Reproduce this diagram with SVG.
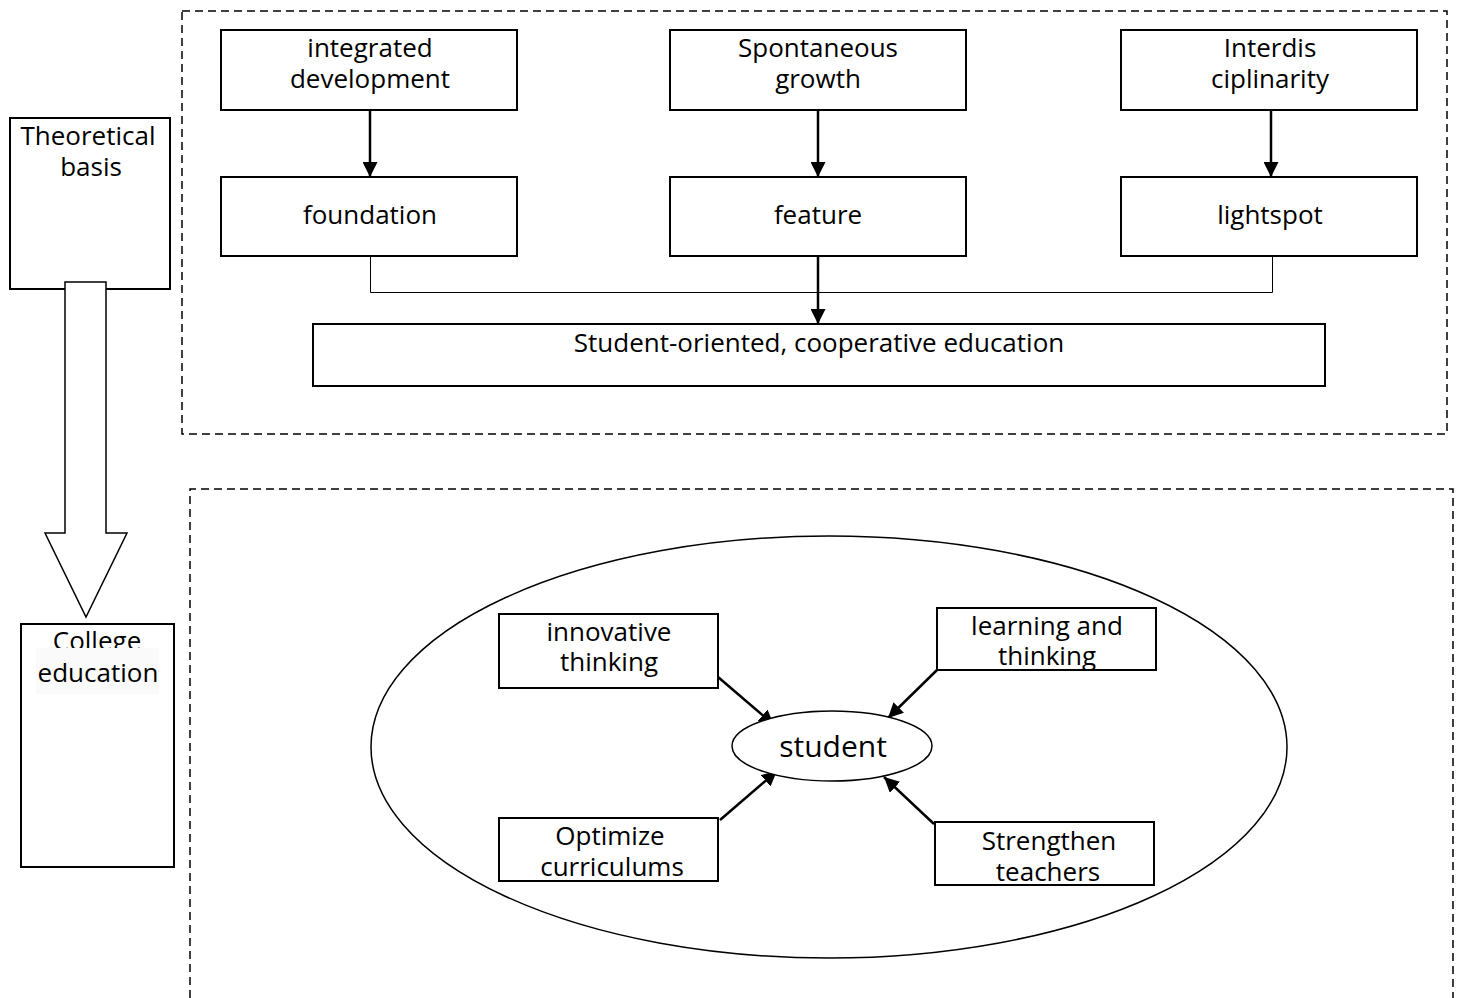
<svg xmlns="http://www.w3.org/2000/svg" width="1460" height="998" viewBox="0 0 1460 998">
<style>
.box{fill:#fff;stroke:#000;stroke-width:2}
.dash{fill:none;stroke:#000;stroke-width:1.5;stroke-dasharray:8,5}
.t{font-family:"Open Sans","Noto Sans","DejaVu Sans",sans-serif;font-size:26px;fill:#000;text-anchor:middle}
.arr{stroke:#000;stroke-width:2.5;fill:none}
.thin{stroke:#000;stroke-width:1;fill:none}
</style>
<defs>
<marker id="ah" viewBox="0 0 10 10" refX="10" refY="5" markerWidth="6" markerHeight="6" markerUnits="strokeWidth" orient="auto">
<path d="M0,0 L10,5 L0,10 z" fill="#000"/>
</marker>
</defs>
<rect width="1460" height="998" fill="#fff"/>
<rect class="dash" x="182" y="11" width="1265" height="423"/>
<path class="dash" d="M190,998 V489 H1453 V998"/>

<g id="connectors">
<line class="arr" x1="370" y1="110" x2="370" y2="177" marker-end="url(#ah)"/>
<line class="arr" x1="818" y1="110" x2="818" y2="177" marker-end="url(#ah)"/>
<line class="arr" x1="1271" y1="110" x2="1271" y2="177" marker-end="url(#ah)"/>
<path class="thin" d="M370.5,256 V292.5 H1272.5 V256"/>
<line class="arr" x1="818" y1="256" x2="818" y2="324" marker-end="url(#ah)"/>
<line class="arr" x1="718" y1="677" x2="774" y2="725" marker-end="url(#ah)"/>
<line class="arr" x1="937" y1="670" x2="888" y2="718" marker-end="url(#ah)"/>
<line class="arr" x1="720" y1="820" x2="777" y2="771" marker-end="url(#ah)"/>
<line class="arr" x1="934" y1="824" x2="884" y2="777" marker-end="url(#ah)"/>
</g>

<g id="n-theoretical">
<rect class="box" x="10" y="118" width="160" height="171"/>
<text class="t" x="88" y="145">Theoretical</text>
<text class="t" x="91" y="176">basis</text>
</g>
<g id="n-bigarrow">
<path d="M65,282 H106 V533 H127 L86,617 L45,533 H65 Z" fill="#fff" stroke="#000" stroke-width="1.5"/>
</g>
<g id="n-college">
<rect class="box" x="21" y="624" width="153" height="243"/>
<text class="t" x="97" y="650">College</text>
<rect x="36" y="648" width="123" height="46" fill="#fafafa"/>
<text class="t" x="98" y="682">education</text>
</g>

<g id="n-integrated">
<rect class="box" x="221" y="30" width="296" height="80"/>
<text class="t" x="370" y="57">integrated</text>
<text class="t" x="370" y="88">development</text>
</g>
<g id="n-spontaneous">
<rect class="box" x="670" y="30" width="296" height="80"/>
<text class="t" x="818" y="57">Spontaneous</text>
<text class="t" x="818" y="88">growth</text>
</g>
<g id="n-interdis">
<rect class="box" x="1121" y="30" width="296" height="80"/>
<text class="t" x="1270" y="57">Interdis</text>
<text class="t" x="1270" y="88">ciplinarity</text>
</g>
<g id="n-foundation">
<rect class="box" x="221" y="177" width="296" height="79"/>
<text class="t" x="370" y="224">foundation</text>
</g>
<g id="n-feature">
<rect class="box" x="670" y="177" width="296" height="79"/>
<text class="t" x="818" y="224">feature</text>
</g>
<g id="n-lightspot">
<rect class="box" x="1121" y="177" width="296" height="79"/>
<text class="t" x="1270" y="224">lightspot</text>
</g>
<g id="n-student-oriented">
<rect class="box" x="313" y="324" width="1012" height="62"/>
<text class="t" x="819" y="352">Student-oriented, cooperative education</text>
</g>

<g id="n-outer-ellipse">
<ellipse cx="829" cy="747" rx="458" ry="211" fill="none" stroke="#000" stroke-width="1.5"/>
</g>
<g id="n-student">
<ellipse cx="832" cy="746" rx="100" ry="35" fill="#fff" stroke="#000" stroke-width="1.5"/>
<text class="t" x="833" y="757" style="font-size:30px">student</text>
</g>
<g id="n-innovative">
<rect class="box" x="499" y="614" width="219" height="74"/>
<text class="t" x="609" y="641">innovative</text>
<text class="t" x="609" y="671">thinking</text>
</g>
<g id="n-learning">
<rect class="box" x="937" y="608" width="219" height="62"/>
<text class="t" x="1047" y="635">learning and</text>
<text class="t" x="1047" y="665">thinking</text>
</g>
<g id="n-optimize">
<rect class="box" x="499" y="818" width="219" height="63"/>
<text class="t" x="610" y="845">Optimize</text>
<text class="t" x="612" y="876">curriculums</text>
</g>
<g id="n-strengthen">
<rect class="box" x="935" y="822" width="219" height="63"/>
<text class="t" x="1049" y="850">Strengthen</text>
<text class="t" x="1048" y="881">teachers</text>
</g>
</svg>
